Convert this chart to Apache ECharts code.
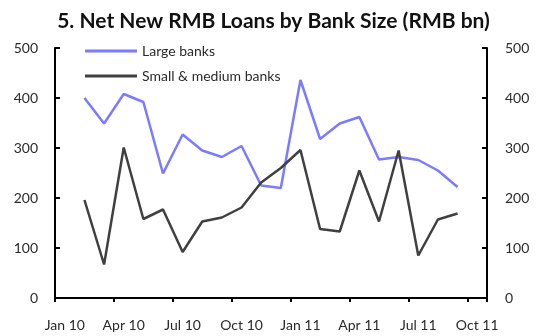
<!DOCTYPE html>
<html>
<head>
<meta charset="utf-8">
<script src="https://cdn.jsdelivr.net/npm/echarts@6/dist/echarts.min.js"></script>
<style>
  html, body { margin: 0; padding: 0; background: #fff; }
  #chart { width: 547px; height: 336px; }
</style>
</head>
<body>
<div id="chart"></div>
<script>
// Monthly categories, Jan 2010 to Oct 2011
const months = [
  'Jan 10','Feb 10','Mar 10','Apr 10','May 10','Jun 10','Jul 10','Aug 10','Sep 10','Oct 10','Nov 10','Dec 10',
  'Jan 11','Feb 11','Mar 11','Apr 11','May 11','Jun 11','Jul 11','Aug 11','Sep 11','Oct 11'
];
// Net new RMB loans, RMB bn (no reading for Jan 10 or Oct 11)
const largeBanks = [null, 400, 349, 408, 392, 249, 327, 295, 282, 304, 225, 220,
  436, 318, 349, 362, 277, 282, 276, 255, 222, null];
const smallMediumBanks = [null, 196, 67, 301, 158, 177, 92, 153, 161, 181, 231, 260,
  296, 138, 133, 255, 153, 295, 85, 157, 169, null];
const yTicks = { min: 0, max: 500, step: 100 };

const FONT = 'Lato';
const axisLine = { show: true, lineStyle: { color: '#000', width: 2 } };
const axisLabel = { color: '#2a2a2a', fontFamily: FONT, fontSize: 14 };

const chart = echarts.init(document.getElementById('chart'), null, { renderer: 'canvas' });
chart.setOption({
  animation: false,
  backgroundColor: '#fff',
  title: {
    text: '5. Net New RMB Loans by Bank Size (RMB bn)',
    left: 'center',
    top: 6,
    textStyle: { fontFamily: FONT, fontWeight: 'bold', fontSize: 21, color: '#111' }
  },
  legend: {
    orient: 'vertical',
    left: 85,
    top: 44,
    padding: 0,
    itemWidth: 52,
    itemHeight: 3,
    itemGap: 11,
    icon: 'rect',
    textStyle: { fontFamily: FONT, fontSize: 14, color: '#2a2a2a', lineHeight: 14 },
    data: ['Large banks', 'Small & medium banks']
  },
  grid: { left: 55, right: 60, top: 48, bottom: 38, containLabel: false },
  xAxis: {
    type: 'category',
    data: months,
    boundaryGap: true,
    axisLine: axisLine,
    axisTick: { show: true, interval: 2, length: 4, inside: false, lineStyle: { color: '#000', width: 2 } },
    axisLabel: Object.assign({ interval: 2, margin: 20 }, axisLabel),
    splitLine: { show: false }
  },
  yAxis: [
    {
      type: 'value', min: yTicks.min, max: yTicks.max, interval: yTicks.step,
      axisLine: axisLine,
      axisTick: { show: true, inside: true, length: 5, lineStyle: { color: '#000', width: 2 } },
      axisLabel: Object.assign({ margin: 17 }, axisLabel),
      splitLine: { show: false }
    },
    {
      type: 'value', min: yTicks.min, max: yTicks.max, interval: yTicks.step, position: 'right',
      axisLine: axisLine,
      axisTick: { show: true, inside: true, length: 5, lineStyle: { color: '#000', width: 2 } },
      axisLabel: Object.assign({ margin: 18 }, axisLabel),
      splitLine: { show: false }
    }
  ],
  series: [
    {
      name: 'Large banks', type: 'line', data: largeBanks, yAxisIndex: 0,
      symbol: 'none', lineStyle: { color: '#7b7bff', width: 2.5 }, itemStyle: { color: '#7b7bff' }
    },
    {
      name: 'Small & medium banks', type: 'line', data: smallMediumBanks, yAxisIndex: 0,
      symbol: 'none', lineStyle: { color: '#404040', width: 2.5 }, itemStyle: { color: '#404040' }
    }
  ]
});
</script>
</body>
</html>
